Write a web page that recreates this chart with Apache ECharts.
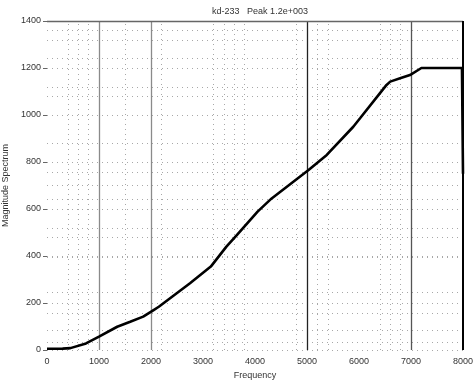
<!DOCTYPE html>
<html>
<head>
<meta charset="utf-8">
<script src="https://cdn.jsdelivr.net/npm/echarts@6/dist/echarts.min.js"></script>
<style>
  html, body { margin: 0; padding: 0; background: #fff; }
  #main { width: 475px; height: 381px; }
</style>
</head>
<body>
<div id="main"></div>
<script>
// 曲线数据
var freq = [0, 300, 450, 750, 1000, 1350, 1600, 1850, 2050, 2150, 2750, 3150, 3450, 3650, 4050, 4320, 5030, 5380, 5890, 6020, 6400, 6530, 6600, 6790, 6980, 7200, 7980, 8000];
var magnitude = [5, 6, 8, 28, 57, 99, 120, 142, 170, 184, 284, 355, 440, 489, 589, 645, 766, 830, 950, 986, 1092, 1128, 1142, 1156, 1170, 1200, 1200, 750];

var xTicks = [0, 1000, 2000, 3000, 4000, 5000, 6000, 7000, 8000];
var yTicks = [0, 200, 400, 600, 800, 1000, 1200, 1400];

// 竖向实线 / 虚线网格位置
var solidX = [1000, 2000, 5000, 7000];
var solidXColor = ['#8a8a8a', '#8a8a8a', '#222', '#555'];
var dottedX = [400, 600, 800, 1500, 2200, 3200, 3400, 3600, 3800, 4800, 5200, 5400, 6400, 6600, 6800];
var dottedY = [35, 85, 157, 245, 395, 480, 520, 640, 700, 755, 880, 1080, 1120, 1240, 1320, 1360];

var chart = echarts.init(document.getElementById('main'), null, { renderer: 'canvas' });

var fontFam = 'Liberation Sans, Arial, sans-serif';

var lineData = freq.map(function (f, i) { return [f, magnitude[i]]; });

var dotStyle = { type: [1, 4], color: '#a8a8a8', width: 1 };
var markData = [];
dottedX.forEach(function (v) {
  markData.push({ xAxis: v, lineStyle: dotStyle });
});
dottedY.forEach(function (v) {
  markData.push({ yAxis: v, lineStyle: dotStyle });
});
solidX.forEach(function (v, i) {
  markData.push({ xAxis: v, lineStyle: { type: 'solid', color: solidXColor[i], width: 1.3 } });
});
// 顶部与右侧边框
markData.push({ yAxis: 1400, lineStyle: { type: 'solid', color: '#666', width: 1.3 } });
markData.push({ xAxis: 8000, lineStyle: { type: 'solid', color: '#000', width: 2 } });

var option = {
  animation: false,
  backgroundColor: '#fff',
  title: {
    text: 'kd-233   Peak 1.2e+003',
    left: 255,
    textAlign: 'center',
    top: 2,
    textStyle: { fontSize: 9, fontWeight: 'normal', color: '#333', fontFamily: fontFam }
  },
  grid: { left: 47, right: 12, top: 21, bottom: 31, outerBoundsMode: 'none', containLabel: false },
  xAxis: {
    type: 'value',
    min: 0,
    max: 8000,
    interval: 1000,
    name: 'Frequency',
    nameLocation: 'middle',
    nameGap: 20,
    nameTextStyle: { fontSize: 9, color: '#333', fontFamily: fontFam },
    axisLine: { show: false },
    axisTick: { show: false },
    splitLine: { show: false },
    axisLabel: {
      fontSize: 9, color: '#333', fontFamily: fontFam, margin: 7,
      formatter: function (v) { return xTicks.indexOf(v) >= 0 ? String(v) : ''; }
    }
  },
  yAxis: {
    type: 'value',
    min: 0,
    max: 1400,
    interval: 200,
    name: 'Magnitude Spectrum',
    nameLocation: 'middle',
    nameGap: 28,
    nameTextStyle: { fontSize: 9, color: '#333', fontFamily: fontFam },
    axisLine: { show: false },
    axisTick: { show: true, length: 4, inside: false, lineStyle: { color: '#666' } },
    splitLine: { show: true, lineStyle: dotStyle },
    axisLabel: {
      fontSize: 9, color: '#333', fontFamily: fontFam, margin: 6,
      formatter: function (v) { return yTicks.indexOf(v) >= 0 ? String(v) : ''; }
    }
  },
  series: [{
    type: 'line',
    data: lineData,
    showSymbol: false,
    smooth: false,
    lineStyle: { color: '#000', width: 2.6 },
    z: 5,
    markLine: {
      silent: true,
      symbol: ['none', 'none'],
      label: { show: false },
      emphasis: { disabled: true },
      animation: false,
      data: markData
    }
  }]
};

chart.setOption(option);
</script>
</body>
</html>
